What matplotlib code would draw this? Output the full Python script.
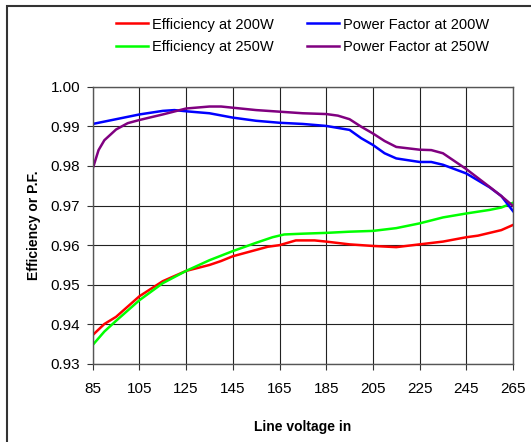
import matplotlib
matplotlib.use("Agg")
import matplotlib.pyplot as plt
from matplotlib.patches import Rectangle

plt.rcParams['font.family'] = ['Liberation Sans', 'DejaVu Sans']

# Efficiency at 200W
v_eff200 = [85, 90, 95, 105, 115, 125, 135, 140, 145, 155, 160, 165, 172, 180,
            185, 195, 205, 215, 225, 235, 245, 250, 255, 260, 265]
eff200 = [0.9373, 0.9401, 0.9419, 0.9471, 0.9509, 0.9535, 0.9550, 0.9560, 0.9572,
          0.9588, 0.9596, 0.9600, 0.9612, 0.9612, 0.9609, 0.9602, 0.9598, 0.9595,
          0.9602, 0.9609, 0.9620, 0.9624, 0.9631, 0.9638, 0.9651]

# Efficiency at 250W
v_eff250 = [85, 90, 95, 105, 115, 125, 135, 145, 155, 162, 167, 175, 185, 195,
            205, 215, 225, 235, 245, 255, 260, 265]
eff250 = [0.9348, 0.9382, 0.9409, 0.9461, 0.9504, 0.9535, 0.9562, 0.9585, 0.9606,
          0.9620, 0.9627, 0.9629, 0.9631, 0.9634, 0.9636, 0.9643, 0.9655, 0.9670,
          0.9680, 0.9689, 0.9695, 0.9707]

# Power factor at 200W
v_pf200 = [85, 95, 105, 115, 120, 125, 135, 145, 155, 165, 175, 185, 195, 200,
           205, 210, 215, 225, 230, 235, 245, 255, 260, 265]
pf200 = [0.9906, 0.9918, 0.9930, 0.9939, 0.9941, 0.9938, 0.9933, 0.9922, 0.9914,
         0.9909, 0.9906, 0.9901, 0.9891, 0.9870, 0.9853, 0.9832, 0.9819, 0.9810,
         0.9810, 0.9803, 0.9781, 0.9746, 0.9724, 0.9686]

# Power factor at 250W
v_pf250 = [85, 87.5, 90, 95, 100, 105, 115, 125, 135, 140, 145, 155, 165, 175,
           185, 190, 195, 200, 205, 210, 215, 225, 230, 235, 245, 255, 260, 265]
pf250 = [0.9793, 0.9840, 0.9865, 0.9892, 0.9908, 0.9916, 0.9930, 0.9945, 0.9950,
         0.9950, 0.9947, 0.9941, 0.9937, 0.9933, 0.9931, 0.9927, 0.9918, 0.9899,
         0.9882, 0.9863, 0.9848, 0.9841, 0.9840, 0.9832, 0.9792, 0.9747, 0.9724,
         0.9699]

x_ticks = list(range(85, 266, 20))
y_ticks = [0.93, 0.94, 0.95, 0.96, 0.97, 0.98, 0.99, 1.00]

fig = plt.figure(figsize=(5.31, 4.42), dpi=100)
ax = fig.add_axes([0.1746, 0.1765, 0.7915, 0.6273])

# outer frame (cut off at right/bottom like the original)
fig.patches.append(Rectangle((7 / 531, -0.1), 1.2, 1 - 6 / 442 + 0.1,
                             transform=fig.transFigure, fill=False,
                             edgecolor='#333333', linewidth=1.5))

l1, = ax.plot(v_eff200, eff200, color='#ff0000', lw=1.8, label='Efficiency at 200W')
l2, = ax.plot(v_eff250, eff250, color='#00ff00', lw=1.8, label='Efficiency at 250W')
l3, = ax.plot(v_pf200, pf200, color='#0000ff', lw=1.8, label='Power Factor at 200W')
l4, = ax.plot(v_pf250, pf250, color='#800080', lw=1.8, label='Power Factor at 250W')

ax.set_xlim(85, 265)
ax.set_ylim(0.93, 1.00)
ax.set_xticks(x_ticks)
ax.set_yticks(y_ticks)
ax.set_yticklabels(['%.2f' % v for v in y_ticks])
ax.grid(True, color='#222222', linewidth=0.8)
ax.set_axisbelow(True)
ax.tick_params(direction='out', length=4, color='#333333', labelsize=11)
ax.tick_params(axis='x', pad=9)
ax.tick_params(axis='y', pad=5)
for s in ax.spines.values():
    s.set_color('#555555')
    s.set_linewidth(1)

ax.set_xlabel('Line voltage in', fontsize=10, fontweight='bold', labelpad=17)
ax.set_ylabel('Efficiency or P.F.', fontsize=10, fontweight='bold', labelpad=7)

fig.legend(handles=[l1, l2, l3, l4], ncol=2, loc='upper left',
           bbox_to_anchor=(0.194, 0.99), frameon=False, fontsize=10.5,
           handlelength=2.2, handletextpad=0.25, columnspacing=2.3,
           labelspacing=0.6)

fig.savefig('out.png', dpi=100)
